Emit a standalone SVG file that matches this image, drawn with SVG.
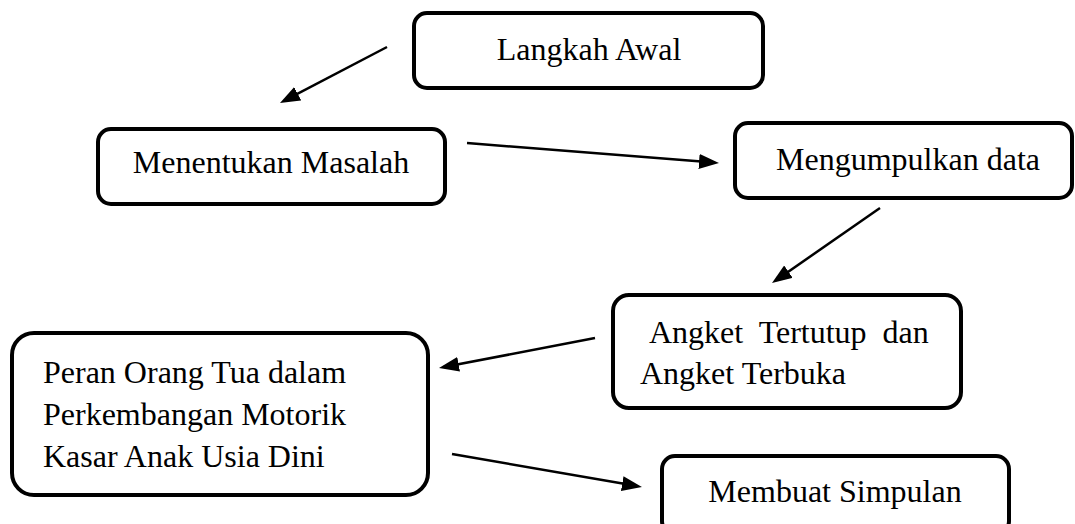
<svg xmlns="http://www.w3.org/2000/svg" width="1075" height="524" viewBox="0 0 1075 524">
  <style>
    .box { fill: #ffffff; stroke: #000000; stroke-width: 4; }
    .lbl { font-family: "Liberation Serif", "Times New Roman", serif; font-size: 32px; fill: #000000; }
    .mid { text-anchor: middle; }
    .conn { stroke: #000000; stroke-width: 2.5; fill: none; marker-end: url(#ah); }
  </style>
  <defs>
    <marker id="ah" markerUnits="userSpaceOnUse" markerWidth="21" markerHeight="16" refX="15" refY="7.5" orient="auto">
      <path d="M0,0 L20,7.5 L0,15 Z" fill="#000000"/>
    </marker>
  </defs>
  <rect width="1075" height="524" fill="#ffffff"/>

  <g id="node-langkah-awal">
    <rect class="box" x="414" y="13" width="349" height="75" rx="13"/>
    <text class="lbl mid" x="589" y="60">Langkah Awal</text>
  </g>

  <g id="node-menentukan-masalah">
    <rect class="box" x="98" y="129" width="347" height="75" rx="13"/>
    <text class="lbl mid" x="271" y="173">Menentukan Masalah</text>
  </g>

  <g id="node-mengumpulkan-data">
    <rect class="box" x="735" y="123" width="337" height="75" rx="13"/>
    <text class="lbl mid" x="908" y="170">Mengumpulkan data</text>
  </g>

  <g id="node-angket">
    <rect class="box" x="613" y="295" width="348" height="113" rx="16"/>
    <text class="lbl" x="649" y="343" word-spacing="8">Angket Tertutup dan</text>
    <text class="lbl" x="640" y="384">Angket Terbuka</text>
  </g>

  <g id="node-peran">
    <rect class="box" x="12" y="333" width="416" height="162" rx="22"/>
    <text class="lbl" x="43" y="383">Peran Orang Tua dalam</text>
    <text class="lbl" x="43" y="425">Perkembangan Motorik</text>
    <text class="lbl" x="43" y="467">Kasar Anak Usia Dini</text>
  </g>

  <g id="node-simpulan">
    <rect class="box" x="662" y="456" width="347" height="78" rx="13"/>
    <text class="lbl mid" x="835" y="502">Membuat Simpulan</text>
  </g>

  <g id="connectors">
    <line class="conn" x1="387" y1="47" x2="284.4" y2="100.7"/>
    <line class="conn" x1="467" y1="143" x2="714" y2="162.6"/>
    <line class="conn" x1="880" y1="208" x2="776.1" y2="280.2"/>
    <line class="conn" x1="595" y1="338" x2="443.9" y2="367.1"/>
    <line class="conn" x1="452" y1="454" x2="637" y2="486.1"/>
  </g>
</svg>
